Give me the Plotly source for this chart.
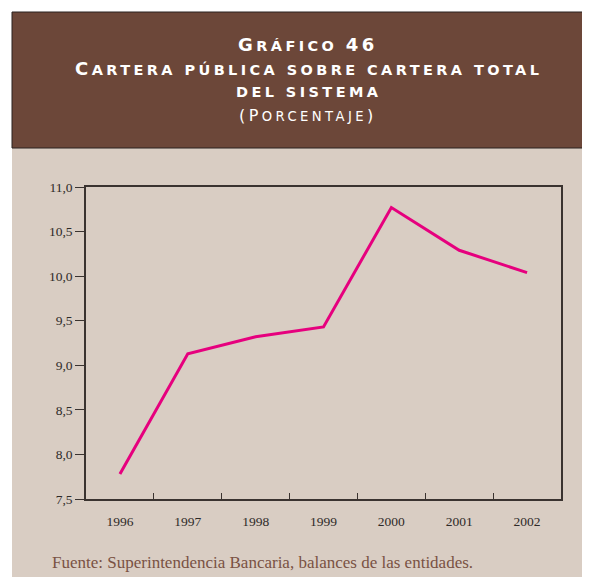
import plotly.graph_objects as go

# ─── Data ─────────────────────────────────────────────────────────────────────
YEARS = ["1996", "1997", "1998", "1999", "2000", "2001", "2002"]
CARTERA_PUBLICA = [7.78, 9.13, 9.32, 9.43, 10.77, 10.29, 10.04]
Y_TICKS = [7.5, 8.0, 8.5, 9.0, 9.5, 10.0, 10.5, 11.0]

# ─── Colours ──────────────────────────────────────────────────────────────────
HEADER = "#6c4739"
PANEL = "#d9cdc3"
LINE = "#e6007e"
AXIS = "#3a3330"
TEXT = "#2e2a28"
SOURCE = "#7a5244"

# page is 590x577 but the body has an 8px default margin
OFF = 8
W, H = 590 - OFF, 577 - OFF
PW, PH = 475, 312
L, T = 86 - OFF, 187 - OFF
R, B = W - L - PW, H - T - PH


def px_x(px):
    # page pixel -> paper coordinate
    return (px - OFF - L) / PW


def px_y(py):
    return (T + PH - (py - OFF)) / PH


def small_caps(text, big=18, small=14.5, spacing=3.4):
    # fake small caps with letter spacing: capitals/digits big, the rest smaller
    out = []
    for ch in text:
        size = big if (ch.isupper() or ch.isdigit() or ch in "()") else small
        out.append(
            f"<span style='font-size:{size}px;letter-spacing:{spacing}px'>{ch.upper()}</span>"
        )
    return "".join(out)


fig = go.Figure(
    go.Scatter(
        x=YEARS,
        y=CARTERA_PUBLICA,
        mode="lines",
        line=dict(color=LINE, width=3),
        hoverinfo="x+y",
    )
)

shapes = [
    # beige panel
    dict(type="rect", xref="paper", yref="paper", layer="below",
         x0=px_x(12), x1=px_x(620), y0=px_y(600), y1=px_y(148),
         fillcolor=PANEL, line=dict(width=0)),
    # brown header
    dict(type="rect", xref="paper", yref="paper", layer="below",
         x0=px_x(12), x1=px_x(620), y0=px_y(148), y1=px_y(12),
         fillcolor=HEADER, line=dict(color="#2a2220", width=1)),
]

title_lines = [
    ("<b>" + small_caps("Gráfico 46") + "</b>", 44),
    ("<b>" + small_caps("Cartera pública sobre cartera total") + "</b>", 68),
    ("<b>" + small_caps("del sistema") + "</b>", 92),
    (small_caps("(Porcentaje)", 16, 13.2, 3.4), 116),
]
annotations = []
for txt, py in title_lines:
    annotations.append(dict(
        text=txt, x=px_x(308), y=px_y(py), xref="paper", yref="paper",
        xanchor="center", yanchor="middle", showarrow=False,
        font=dict(family="DejaVu Sans, Arial, sans-serif", color="white", size=14),
    ))

annotations.append(dict(
    text="Fuente: Superintendencia Bancaria, balances de las entidades.",
    x=px_x(50), y=px_y(562), xref="paper", yref="paper",
    xanchor="left", yanchor="middle", showarrow=False,
    font=dict(family="Liberation Serif, Times New Roman, serif", size=17, color=SOURCE),
))

fig.update_layout(
    width=W,
    height=H,
    margin=dict(l=L, r=R, t=T, b=B),
    paper_bgcolor="white",
    plot_bgcolor=PANEL,
    separators=",.",
    showlegend=False,
    shapes=shapes,
    annotations=annotations,
    font=dict(family="Liberation Serif, Times New Roman, serif", size=13.5, color=TEXT),
    xaxis=dict(
        type="category",
        range=[-0.5, len(YEARS) - 0.5],
        tickson="boundaries",
        ticks="inside",
        ticklen=6,
        tickcolor=AXIS,
        showline=True,
        linecolor=AXIS,
        linewidth=1.5,
        mirror=True,
        showgrid=False,
        zeroline=False,
        ticklabelstandoff=9,
    ),
    yaxis=dict(
        range=[7.5, 11.0],
        tickvals=Y_TICKS,
        tickformat=".1f",
        ticks="outside",
        ticklen=9,
        tickcolor=AXIS,
        showline=True,
        linecolor=AXIS,
        linewidth=1.5,
        mirror=True,
        showgrid=False,
        zeroline=False,
    ),
)

fig.write_html("out.html")
